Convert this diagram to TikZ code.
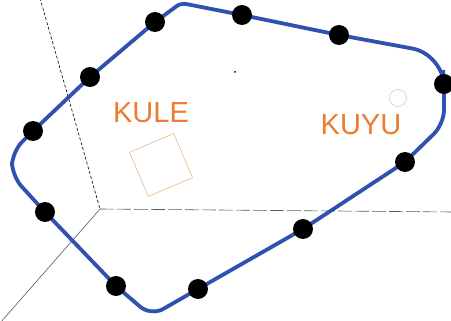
\documentclass[tikz,border=0pt]{standalone}
\usepackage{fontspec}
\newfontfamily\labelfont{Liberation Sans}
\usetikzlibrary{positioning}
\definecolor{routeblue}{HTML}{2F52B0}
\definecolor{labelorange}{HTML}{EE7B30}
\definecolor{boxtan}{HTML}{E6B98E}
\definecolor{axisgray}{HTML}{5A5A5A}
\begin{document}
\begin{tikzpicture}[x=1pt, y=-1pt,
  stop/.style={circle, fill=black, minimum size=20pt, inner sep=0pt},
  route/.style={draw=routeblue, line width=3.8pt, rounded corners=14pt},
  axisline/.style={axisgray, line width=0.6pt},
  tag/.style={font=\labelfont\fontsize{29}{29}\selectfont, text=labelorange, inner sep=0pt}
]
\useasboundingbox (0,0) rectangle (451,321);
\fill[white] (0,0) rectangle (451,321);
\coordinate (O) at (100,209);
\coordinate (ztop) at (40,-2);
\coordinate (xend) at (453,212);
\coordinate (yend) at (0,323);
\draw[axisline, black, densely dashed] (ztop) -- (O);
\draw[axisline] (O) -- (yend);
\draw[axisline, dash pattern=on 14pt off 3pt] (O) -- (xend);
\coordinate (p1) at (155,22);
\coordinate (p2) at (90,77);
\coordinate (p3) at (33,131);
\coordinate (p4) at (242,15);
\coordinate (p5) at (339,35);
\coordinate (p6) at (444,84);
\coordinate (p7) at (405,162);
\coordinate (p8) at (303,229);
\coordinate (p9) at (198,289);
\coordinate (p10) at (116,286);
\coordinate (p11) at (45,212);
\coordinate (vtop) at (181,3);
\coordinate (vr1) at (442,54);
\coordinate (vr2) at (444,124);
\coordinate (vbot) at (151,316);
\coordinate (vl1) at (12,176);
\coordinate (vl2) at (12,152);
\draw[route] (p1) [rounded corners=5pt] -- (vtop) [rounded corners=14pt] -- (p4) -- (p5) [rounded corners=30pt] -- (vr1) [rounded corners=14pt] -- (p6) -- (vr2) -- (p7) -- (p8) -- (p9) -- (vbot) -- (p10) -- (p11) -- (vl1) -- (vl2) -- (p3) -- (p2) -- cycle;
\foreach \i in {1,...,11}
  \node[stop] (s\i) at (p\i) {};
\node[tag] (kule) at (151,113) {KULE};
\node[draw=boxtan, line width=0.6pt, minimum size=48pt, inner sep=0pt, rotate=23] (kulebox) at (161,165) {};
\node[tag] (kuyu) at (361,125) {KUYU};
\node[circle, draw=boxtan!70!gray!60, line width=0.6pt, minimum size=17pt, inner sep=0pt] (kuyuring) at (398,98) {};
\fill (235,72) circle (1pt);
\end{tikzpicture}
\end{document}
